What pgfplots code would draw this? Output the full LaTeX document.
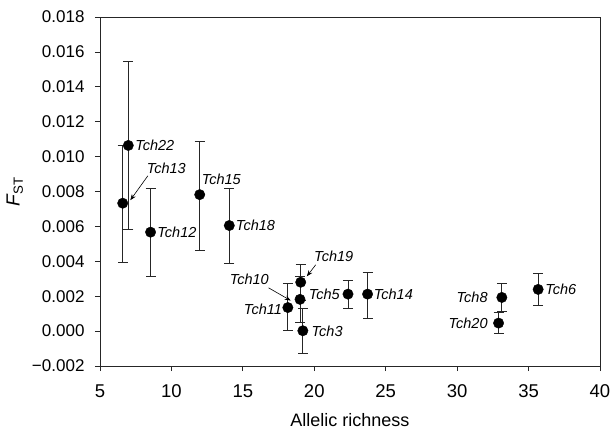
\documentclass[border=0pt]{standalone}
\usepackage{fontspec}
\setmainfont{Liberation Sans}
\usepackage{pgfplots}
\pgfplotsset{compat=1.18}
\usetikzlibrary{arrows.meta}

% F_ST against allelic richness, one row per locus
\tikzset{labfont/.style={font=\fontsize{14.5}{16}\selectfont\itshape, inner sep=1.5pt}}

\begin{document}
\begin{tikzpicture}
\path[use as bounding box] (-100pt,-63pt) rectangle (513pt,366pt);
\begin{axis}[
    at={(0,0)}, anchor=south west,
    scale only axis,
    width=500pt, height=349pt,
    xmin=5, xmax=40,
    ymin=-0.002, ymax=0.018,
    xtick={5,10,...,40},
    ytick={-0.002,0,0.002,0.004,0.006,0.008,0.010,0.012,0.014,0.016,0.018},
    yticklabels={−0.002,0.000,0.002,0.004,0.006,0.008,0.010,0.012,0.014,0.016,0.018},
    scaled y ticks=false,
    tick align=outside,
    tick pos=left,
    major tick length=5pt,
    axis line style={line width=0.8pt, black!85},
    every tick/.style={line width=0.8pt, black!85},
    /pgf/number format/assume math mode=true,
    xticklabel style={font=\fontsize{18.5}{20}\selectfont, yshift=-10pt},
    yticklabel style={font=\fontsize{17}{19}\selectfont, xshift=-7pt},
    xlabel={Allelic richness},
    xlabel style={font=\fontsize{18}{20}\selectfont, yshift=-9pt},
    ylabel={\textit{F}\textsubscript{ST}},
    ylabel style={font=\fontsize{19}{21}\selectfont, yshift=2pt},
]

\addplot[only marks, mark=*, mark size=5.2pt, black,
    error bars/.cd, y dir=both, y explicit,
    error bar style={line width=0.8pt, black!85},
    error mark options={rotate=90, mark size=5pt, line width=0.8pt, black!85}]
table[x=x, y=y, y error plus=ep, y error minus=em] {
x     y        ep       em
6.98  0.01064  0.0048   0.0048
6.59  0.00733  0.0033   0.0034
8.54  0.00567  0.00248  0.00251
11.98 0.00782  0.00305  0.00317
14.05 0.00605  0.0021   0.00216
18.15 0.00135  0.00137  0.00130
19.00 0.00182  0.0013   0.0013
19.05 0.00280  0.00105  0.00105
19.20 0.00002  0.0013   0.0013
22.36 0.00212  0.00081  0.0008
23.73 0.00212  0.00127  0.00137
33.13 0.00193  0.0008   0.00078
32.90 0.00046  0.00061  0.00059
35.67 0.00239  0.0009   0.00092
};

% locus names
\node[labfont, anchor=west] at (axis cs:7.35,0.01064) {Tch22};
\node[labfont] at (axis cs:9.64,0.00934) {Tch13};
\node[labfont] at (axis cs:13.49,0.00867) {Tch15};
\node[labfont, anchor=west] at (axis cs:8.9,0.00567) {Tch12};
\node[labfont, anchor=west] at (axis cs:14.4,0.00605) {Tch18};
\node[labfont] at (axis cs:15.45,0.00297) {Tch10};
\node[labfont] at (axis cs:21.36,0.00427) {Tch19};
\node[labfont, anchor=east] at (axis cs:17.85,0.00126) {Tch11};
\node[labfont, anchor=east] at (axis cs:21.9,0.00212) {Tch5};
\node[labfont, anchor=west] at (axis cs:19.7,0.00000) {Tch3};
\node[labfont, anchor=west] at (axis cs:24.05,0.00212) {Tch14};
\node[labfont, anchor=east] at (axis cs:32.25,0.00193) {Tch8};
\node[labfont, anchor=east] at (axis cs:32.25,0.00046) {Tch20};
\node[labfont, anchor=west] at (axis cs:36.05,0.00239) {Tch6};

% pointers
\draw[line width=0.6pt, -{Stealth[length=6pt, width=4.5pt]}] (axis cs:8.35,0.00890) -- (axis cs:7.12,0.00750);
\draw[line width=0.6pt, -{Stealth[length=6pt, width=4.5pt]}] (axis cs:20.1,0.00380) -- (axis cs:19.48,0.00314);
\draw[line width=0.6pt, -{Stealth[length=6pt, width=4.5pt]}] (axis cs:16.8,0.00248) -- (axis cs:18.35,0.00175);

\end{axis}
\end{tikzpicture}
\end{document}
